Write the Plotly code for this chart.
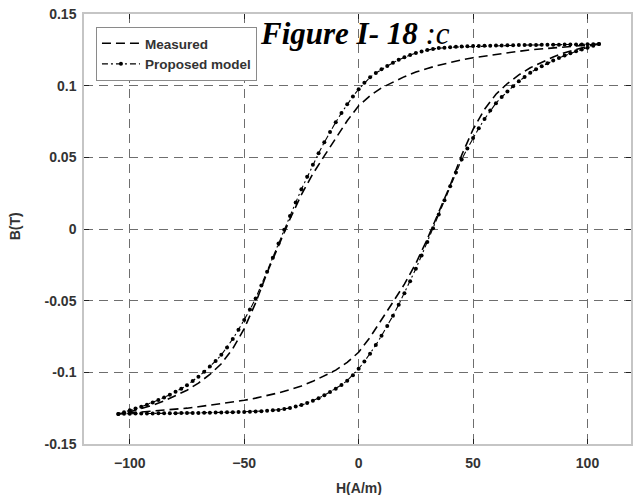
import plotly.graph_objects as go

# ---------------- data ----------------
# Proposed model, descending branch (H from +105 to -105)
H_model_desc = [105, 102.5, 100, 97.5, 95, 92.5, 90, 87.5, 85, 82.5, 80, 77.5, 75, 72.5, 70, 67.5, 65,
                62.5, 60, 57.5, 55, 52.5, 50, 47.5, 45, 42.5, 40, 37.5, 35, 32.5, 30, 27.5, 25, 22.5,
                20, 17.5, 15, 12.5, 10, 7.5, 5, 2.5, 0, -2.5, -5, -7.5, -10, -12.5, -15, -17.5, -20,
                -22.5, -25, -27.5, -30, -32.5, -35, -37.5, -40, -42.5, -45, -47.5, -50, -52.5, -55,
                -57.5, -60, -62.5, -65, -67.5, -70, -72.5, -75, -77.5, -80, -82.5, -85, -87.5, -90,
                -92.5, -95, -97.5, -100, -102.5, -105]
B_model_desc = [0.1290, 0.1289, 0.1289, 0.1288, 0.1288, 0.1287, 0.1287, 0.1286, 0.1286, 0.1285, 0.1285,
                0.1284, 0.1284, 0.1283, 0.1283, 0.1282, 0.1282, 0.1281, 0.1280, 0.1279, 0.1278, 0.1277,
                0.1276, 0.1275, 0.1273, 0.1271, 0.1268, 0.1265, 0.1262, 0.1256, 0.1248, 0.1239, 0.1228,
                0.1214, 0.1198, 0.1180, 0.1160, 0.1138, 0.1115, 0.1088, 0.1058, 0.1020, 0.0975, 0.0925,
                0.0870, 0.0810, 0.0745, 0.0677, 0.0605, 0.0528, 0.0448, 0.0365, 0.0277, 0.0185, 0.0090,
                -0.0005, -0.0102, -0.0200, -0.0298, -0.0395, -0.0485, -0.0562, -0.0635, -0.0703, -0.0767,
                -0.0826, -0.0878, -0.0921, -0.0960, -0.0996, -0.1030, -0.1061, -0.1090, -0.1114, -0.1136,
                -0.1156, -0.1175, -0.1193, -0.1210, -0.1226, -0.1240, -0.1253, -0.1265, -0.1278, -0.1290]

# Proposed model, ascending branch (H from -105 to +105)
H_model_asc = [-105, -102.5, -100, -97.5, -95, -92.5, -90, -87.5, -85, -82.5, -80, -77.5, -75, -72.5, -70,
               -67.5, -65, -62.5, -60, -57.5, -55, -52.5, -50, -47.5, -45, -42.5, -40, -37.5, -35, -32.5,
               -30, -27.5, -25, -22.5, -20, -17.5, -15, -12.5, -10, -7.5, -5, -2.5, 0, 2.5, 5, 7.5, 10,
               12.5, 15, 17.5, 20, 22.5, 25, 27.5, 30, 32.5, 35, 37.5, 40, 42.5, 45, 47.5, 50, 52.5, 55,
               57.5, 60, 62.5, 65, 67.5, 70, 72.5, 75, 77.5, 80, 82.5, 85, 87.5, 90, 92.5, 95, 97.5, 100,
               102.5, 105]
B_model_asc = [-0.1290, -0.1289, -0.1289, -0.1288, -0.1288, -0.1287, -0.1287, -0.1286, -0.1286, -0.1285,
               -0.1285, -0.1284, -0.1284, -0.1283, -0.1283, -0.1282, -0.1282, -0.1281, -0.1280, -0.1279,
               -0.1278, -0.1277, -0.1276, -0.1275, -0.1273, -0.1271, -0.1268, -0.1265, -0.1262, -0.1256,
               -0.1248, -0.1239, -0.1228, -0.1214, -0.1198, -0.1180, -0.1160, -0.1138, -0.1115, -0.1088,
               -0.1058, -0.1020, -0.0975, -0.0925, -0.0870, -0.0810, -0.0745, -0.0677, -0.0605, -0.0528,
               -0.0448, -0.0365, -0.0277, -0.0185, -0.0090, 0.0005, 0.0102, 0.0200, 0.0298, 0.0395,
               0.0485, 0.0562, 0.0635, 0.0703, 0.0767, 0.0826, 0.0878, 0.0921, 0.0960, 0.0996, 0.1030,
               0.1061, 0.1090, 0.1114, 0.1136, 0.1156, 0.1175, 0.1193, 0.1210, 0.1226, 0.1240, 0.1253,
               0.1265, 0.1278, 0.1290]

# Measured, descending branch (H from +105 to -105)
H_meas_desc = [105, 100, 95, 90, 85, 80, 75, 70, 65, 60, 55, 50, 45, 40, 35, 30, 25, 20, 15, 10, 5, 0,
               -5, -10, -15, -20, -25, -30, -35, -40, -45, -50, -55, -60, -65, -70, -75, -80, -85, -90,
               -95, -100, -105]
B_meas_desc = [0.1290, 0.1284, 0.1278, 0.1272, 0.1265, 0.1258, 0.1250, 0.1240, 0.1230, 0.1220, 0.1210,
               0.1195, 0.1180, 0.1163, 0.1143, 0.1120, 0.1095, 0.1063, 0.1025, 0.0985, 0.0930, 0.0860,
               0.0755, 0.0635, 0.0510, 0.0385, 0.0240, 0.0070, -0.0115, -0.0305, -0.0515, -0.0695,
               -0.0835, -0.0940, -0.1015, -0.1075, -0.1125, -0.1165, -0.1200, -0.1230, -0.1255, -0.1275,
               -0.1290]

# Measured, ascending branch (H from -105 to +105)
H_meas_asc = [-105, -100, -95, -90, -85, -80, -75, -70, -65, -60, -55, -50, -45, -40, -35, -30, -25, -20,
              -15, -10, -5, 0, 5, 10, 15, 20, 25, 30, 35, 40, 45, 50, 55, 60, 65, 70, 75, 80, 85, 90, 95,
              100, 105]
B_meas_asc = [-0.1290, -0.1284, -0.1278, -0.1272, -0.1265, -0.1258, -0.1250, -0.1240, -0.1230, -0.1220,
              -0.1210, -0.1195, -0.1180, -0.1163, -0.1143, -0.1120, -0.1095, -0.1063, -0.1025, -0.0985,
              -0.0930, -0.0860, -0.0755, -0.0635, -0.0510, -0.0385, -0.0240, -0.0070, 0.0115, 0.0305,
              0.0515, 0.0695, 0.0835, 0.0940, 0.1015, 0.1075, 0.1125, 0.1165, 0.1200, 0.1230, 0.1255,
              0.1275, 0.1290]

x_ticks = [-100, -50, 0, 50, 100]
y_ticks = [-0.15, -0.1, -0.05, 0, 0.05, 0.1, 0.15]
y_tick_text = ["-0.15", "-0.1", "-0.05", "0", "0.05", "0.1", "0.15"]

# ---------------- figure ----------------
W, H = 633, 495
ML, MR, MT, MB = 84, 0, 14, 51
PW, PH = W - ML - MR, H - MT - MB

fig = go.Figure()

fig.add_trace(go.Scatter(
    x=H_meas_desc + H_meas_asc, y=B_meas_desc + B_meas_asc,
    mode="lines", name="Measured",
    line=dict(color="black", width=1.6, dash="9px,5px"),
))
fig.add_trace(go.Scatter(
    x=H_model_desc + H_model_asc, y=B_model_desc + B_model_asc,
    mode="lines+markers", name="Proposed model",
    line=dict(color="black", width=1.1, dash="6px,3px,2px,3px"),
    marker=dict(color="black", size=4, symbol="circle"),
))

axis_common = dict(
    showgrid=True, gridcolor="#6e6e6e", gridwidth=1.3, griddash="9px,6px",
    showline=True, linecolor="rgba(150,150,150,0.55)", linewidth=1.5, mirror="ticks",
    ticks="inside", ticklen=5, tickwidth=1, tickcolor="#222",
    zeroline=False,
    tickfont=dict(family="Liberation Sans, Arial, sans-serif", size=14, color="#333333", weight="bold"),
)

fig.update_xaxes(range=[-120, 119], tickvals=x_ticks, ticklabelstandoff=5, **axis_common)
fig.update_yaxes(range=[-0.15, 0.15], tickvals=y_ticks, ticktext=y_tick_text,
                 ticklabelstandoff=3, **axis_common)

fig.update_layout(
    width=W, height=H,
    margin=dict(l=ML, r=MR, t=MT, b=MB, pad=0),
    paper_bgcolor="white", plot_bgcolor="white",
    showlegend=True,
    legend=dict(
        x=(96 - ML) / PW, y=1 - (27 - MT) / PH, xanchor="left", yanchor="top",
        bgcolor="white", bordercolor="#8a8a8a", borderwidth=1,
        font=dict(family="Liberation Sans, Arial, sans-serif", size=13.5, color="#333", weight="bold"),
        tracegroupgap=0, itemwidth=38,
    ),
    annotations=[
        dict(text="H(A/m)", xref="paper", yref="paper",
             x=(360 - ML) / PW, y=-(488 - (MT + PH)) / PH, xanchor="center", yanchor="middle",
             showarrow=False,
             font=dict(family="Liberation Sans, Arial, sans-serif", size=14, color="#333333", weight="bold")),
        dict(text="B(T)", xref="paper", yref="paper",
             x=(15 - ML) / PW, y=1 - (226 - MT) / PH, xanchor="center", yanchor="middle",
             textangle=-90, showarrow=False,
             font=dict(family="Liberation Sans, Arial, sans-serif", size=14, color="#333333", weight="bold")),
        dict(text="<b><i>Figure I- 18 </i></b><i>:c</i>", xref="paper", yref="paper",
             x=(259 - ML) / PW, y=1 - (33 - MT) / PH, xanchor="left", yanchor="middle",
             showarrow=False,
             font=dict(family="Liberation Serif, Times New Roman, serif", size=31, color="black")),
    ],
)

fig.write_html("out.html")
